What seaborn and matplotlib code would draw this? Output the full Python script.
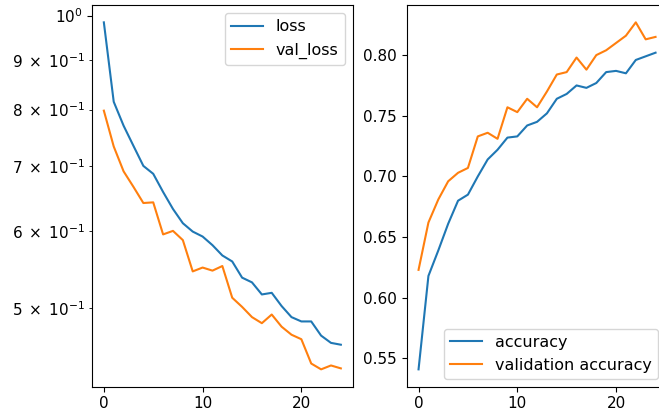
import matplotlib
matplotlib.use("Agg")
import matplotlib.pyplot as plt
from matplotlib.ticker import FuncFormatter, MultipleLocator
import seaborn as sns
import numpy as np

epochs = list(range(25))
loss = [0.984, 0.815, 0.770, 0.734, 0.700, 0.687, 0.658, 0.632, 0.611, 0.599,
        0.592, 0.580, 0.566, 0.558, 0.537, 0.531, 0.516, 0.518, 0.502, 0.489,
        0.484, 0.484, 0.468, 0.460, 0.458]
val_loss = [0.798, 0.733, 0.691, 0.666, 0.641, 0.642, 0.595, 0.600, 0.587, 0.545,
            0.550, 0.546, 0.552, 0.512, 0.501, 0.489, 0.482, 0.492, 0.478, 0.469,
            0.464, 0.438, 0.432, 0.436, 0.433]
accuracy = [0.541, 0.618, 0.639, 0.661, 0.680, 0.685, 0.700, 0.714, 0.722, 0.732,
            0.733, 0.742, 0.745, 0.752, 0.764, 0.768, 0.775, 0.773, 0.777, 0.786,
            0.787, 0.785, 0.796, 0.799, 0.802]
val_accuracy = [0.623, 0.662, 0.681, 0.696, 0.703, 0.707, 0.733, 0.736, 0.731, 0.757,
                0.753, 0.764, 0.757, 0.770, 0.784, 0.786, 0.798, 0.788, 0.800, 0.804,
                0.810, 0.816, 0.827, 0.813, 0.815]

plt.rcParams["xtick.labelsize"] = 11
plt.rcParams["ytick.labelsize"] = 11
plt.rcParams["legend.fontsize"] = 11.5

fig = plt.figure(figsize=(6.59, 4.12), dpi=100)
W, H = 659, 412
ax_l, ax_b, ax_w, ax_h = 92, 386.7, 260.7, 381.7
ax1 = fig.add_axes([ax_l / W, (H - ax_b) / H, ax_w / W, ax_h / H])
ax2 = fig.add_axes([406.7 / W, (H - ax_b) / H, ax_w / W, ax_h / H])

sns.lineplot(x=epochs, y=loss, ax=ax1, label="loss", color="C0")
sns.lineplot(x=epochs, y=val_loss, ax=ax1, label="val_loss", color="C1")
ax1.set_yscale("log")


def log_label(v, pos=None):
    exp = int(np.floor(np.log10(v) + 1e-9))
    mant = v / 10 ** exp
    if abs(mant - 1) < 1e-6:
        return r"$\mathdefault{10^{%d}}$" % exp
    m = int(round(mant))
    if abs(mant - m) > 1e-6:
        return ""
    return r"$\mathdefault{%d\;\times\;10^{%d}}$" % (m, exp)


ax1.yaxis.set_major_formatter(FuncFormatter(log_label))
ax1.yaxis.set_minor_formatter(FuncFormatter(log_label))

sns.lineplot(x=epochs, y=accuracy, ax=ax2, label="accuracy", color="C0")
sns.lineplot(x=epochs, y=val_accuracy, ax=ax2, label="validation accuracy", color="C1")

ax1.legend(loc="upper right", bbox_to_anchor=((345 - 92) / ax_w, (ax_b - 13) / ax_h),
           borderaxespad=0)
ax2.legend(loc="lower left", bbox_to_anchor=((444 - 406.7) / ax_w, (ax_b - 379.3) / ax_h),
           borderaxespad=0)

for ax in (ax1, ax2):
    ax.set_xlabel("")
    ax.set_ylabel("")
    ax.xaxis.set_major_locator(MultipleLocator(10))

fig.savefig("out.png", dpi=100)
